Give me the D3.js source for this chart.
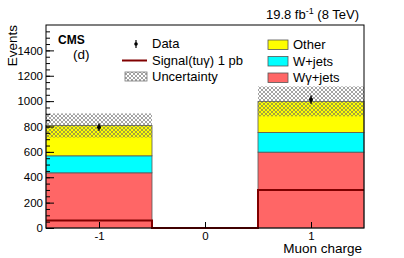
<!DOCTYPE html>
<html>
<head>
<meta charset="utf-8">
<script src="https://cdn.jsdelivr.net/npm/d3@7"></script>
<style>
  body { margin: 0; background: #fff; }
  text { font-family: "Liberation Sans", Arial, sans-serif; fill: #000; }
</style>
</head>
<body>
<div id="chart"></div>
<script>
var categories = [-1, 0, 1];
var wgamma = [435, 0, 598];
var wjets = [134, 0, 155];
var other = [239, 0, 245];
var uncertainty = [95, 0, 118];
var signal = [60, 0, 300];
var dataX = [-1, 1];
var dataY = [795, 1012];
var dataErr = [28, 32];
var yTicks = [0, 200, 400, 600, 800, 1000, 1200, 1400];

var width = 404;
var height = 258;
var frame = { left: 46, right: 364, top: 25, bottom: 228 };

var svg = d3.select('#chart').append('svg')
  .attr('width', width)
  .attr('height', height);

var defs = svg.append('defs');
var pat = defs.append('pattern')
  .attr('id', 'hatch')
  .attr('patternUnits', 'userSpaceOnUse')
  .attr('width', 4)
  .attr('height', 4);
pat.append('path')
  .attr('d', 'M0,0L4,4M4,0L0,4')
  .attr('stroke', '#666')
  .attr('stroke-width', 0.6);

var x = d3.scaleLinear().domain([-1.5, 1.5]).range([frame.left, frame.right]);
var y = d3.scaleLinear().domain([0, 1600]).range([frame.bottom, frame.top]);

var rows = categories.map(function (c, i) {
  return { c: c, wgamma: wgamma[i], wjets: wjets[i], other: other[i] };
});
var keys = ['wgamma', 'wjets', 'other'];
var colors = { wgamma: '#ff6666', wjets: '#00ffff', other: '#ffff00' };
var stack = d3.stack().keys(keys)(rows);

svg.append('g').selectAll('g')
  .data(stack)
  .enter().append('g')
    .attr('fill', function (d) { return colors[d.key]; })
  .selectAll('rect')
  .data(function (d) { return d; })
  .enter().append('rect')
    .filter(function (d) { return d[1] > d[0]; })
    .attr('x', function (d) { return x(d.data.c - 0.5); })
    .attr('width', function (d) { return x(d.data.c + 0.5) - x(d.data.c - 0.5); })
    .attr('y', function (d) { return y(d[1]); })
    .attr('height', function (d) { return y(d[0]) - y(d[1]); })
    .attr('stroke', '#555')
    .attr('stroke-width', 0.8);

// uncertainty band
svg.append('g').selectAll('rect')
  .data(rows)
  .enter().append('rect')
    .filter(function (d, i) { return uncertainty[i] > 0; })
    .attr('x', function (d) { return x(d.c - 0.5); })
    .attr('width', function (d) { return x(d.c + 0.5) - x(d.c - 0.5); })
    .attr('y', function (d) { var i = categories.indexOf(d.c); return y(d.wgamma + d.wjets + d.other + uncertainty[i]); })
    .attr('height', function (d) { var i = categories.indexOf(d.c); return y(0) - y(2 * uncertainty[i]); })
    .attr('fill', 'url(#hatch)');

// signal step line
var sigPts = categories.map(function (c, i) { return [c - 0.5, signal[i]]; });
sigPts.push([categories[categories.length - 1] + 0.5, signal[signal.length - 1]]);
svg.append('path')
  .datum(sigPts)
  .attr('fill', 'none')
  .attr('stroke', '#800000')
  .attr('stroke-width', 2)
  .attr('d', d3.line()
    .x(function (d) { return x(d[0]); })
    .y(function (d) { return y(d[1]); })
    .curve(d3.curveStepAfter));

// data points
var pts = svg.append('g').selectAll('g')
  .data(dataX)
  .enter().append('g');
pts.append('line')
  .attr('x1', function (d) { return x(d); })
  .attr('x2', function (d) { return x(d); })
  .attr('y1', function (d, i) { return y(dataY[i] - dataErr[i]); })
  .attr('y2', function (d, i) { return y(dataY[i] + dataErr[i]); })
  .attr('stroke', '#000')
  .attr('stroke-width', 1.5);
pts.append('circle')
  .attr('cx', function (d) { return x(d); })
  .attr('cy', function (d, i) { return y(dataY[i]); })
  .attr('r', 2)
  .attr('fill', '#000');

// frame
svg.append('rect')
  .attr('x', frame.left)
  .attr('y', frame.top)
  .attr('width', frame.right - frame.left)
  .attr('height', frame.bottom - frame.top)
  .attr('fill', 'none')
  .attr('stroke', '#000')
  .attr('stroke-width', 1);

// axes
var plain = function (d) { return String(d); };

var yMinor = svg.append('g')
  .attr('transform', 'translate(' + frame.left + ',0)')
  .call(d3.axisLeft(y).tickValues(d3.range(0, 1600, 50)).tickSize(-4).tickFormat(''));
yMinor.select('.domain').remove();

var yAxis = svg.append('g')
  .attr('transform', 'translate(' + frame.left + ',0)')
  .call(d3.axisLeft(y).tickValues(yTicks).tickSizeInner(-8).tickSizeOuter(0).tickPadding(3)
    .tickFormat(plain));
yAxis.select('.domain').remove();
yAxis.selectAll('text').style('font-size', '11.5px').attr('font-family', null);

var xAxis = svg.append('g')
  .attr('transform', 'translate(0,' + frame.bottom + ')')
  .call(d3.axisBottom(x).tickValues(categories).tickSizeInner(-6).tickSizeOuter(0).tickPadding(4)
    .tickFormat(plain));
xAxis.select('.domain').remove();
xAxis.selectAll('text').style('font-size', '11.5px').attr('font-family', null);
svg.selectAll('.tick line').attr('stroke', '#000');

svg.append('text')
  .attr('x', frame.right - 2)
  .attr('y', 253)
  .attr('text-anchor', 'end')
  .style('font-size', '13.5px')
  .text('Muon charge');

svg.append('text')
  .attr('transform', 'translate(17,' + frame.top + ') rotate(-90)')
  .attr('text-anchor', 'end')
  .style('font-size', '13.5px')
  .text('Events');

// header
var lumi = svg.append('text')
  .attr('x', 359)
  .attr('y', 19)
  .attr('text-anchor', 'end')
  .style('font-size', '13px');
lumi.append('tspan').text('19.8 fb');
lumi.append('tspan').attr('dy', -5).style('font-size', '9px').text('-1');
lumi.append('tspan').attr('dy', 5).text(' (8 TeV)');

svg.append('text')
  .attr('x', 58)
  .attr('y', 44)
  .style('font-size', '12px')
  .style('font-weight', 'bold')
  .text('CMS');
svg.append('text')
  .attr('x', 73)
  .attr('y', 59)
  .style('font-size', '13.5px')
  .text('(d)');

// legend left
var leg = svg.append('g').style('font-size', '13px');
leg.append('line')
  .attr('x1', 136).attr('x2', 136).attr('y1', 40).attr('y2', 48)
  .attr('stroke', '#000').attr('stroke-width', 1.2);
leg.append('circle').attr('cx', 136).attr('cy', 44).attr('r', 1.8).attr('fill', '#000');
leg.append('text').attr('x', 152).attr('y', 48).text('Data');
leg.append('line')
  .attr('x1', 122).attr('x2', 147).attr('y1', 60.5).attr('y2', 60.5)
  .attr('stroke', '#800000').attr('stroke-width', 2);
leg.append('text').attr('x', 152).attr('y', 65).text('Signal(tuγ) 1 pb');
leg.append('rect')
  .attr('x', 125).attr('y', 72).attr('width', 22).attr('height', 9)
  .attr('fill', 'url(#hatch)').attr('stroke', '#777').attr('stroke-width', 0.8);
leg.append('text').attr('x', 152).attr('y', 81).text('Uncertainty');

// legend right
var rightLeg = [
  { key: 'other', label: 'Other', yy: 40 },
  { key: 'wjets', label: 'W+jets', yy: 56.5 },
  { key: 'wgamma', label: 'Wγ+jets', yy: 73 }
];
rightLeg.forEach(function (d) {
  leg.append('rect')
    .attr('x', 268).attr('y', d.yy).attr('width', 20).attr('height', 9.5)
    .attr('fill', colors[d.key]).attr('stroke', '#555').attr('stroke-width', 0.8);
  leg.append('text').attr('x', 293).attr('y', d.yy + 9).text(d.label);
});
</script>
</body>
</html>
